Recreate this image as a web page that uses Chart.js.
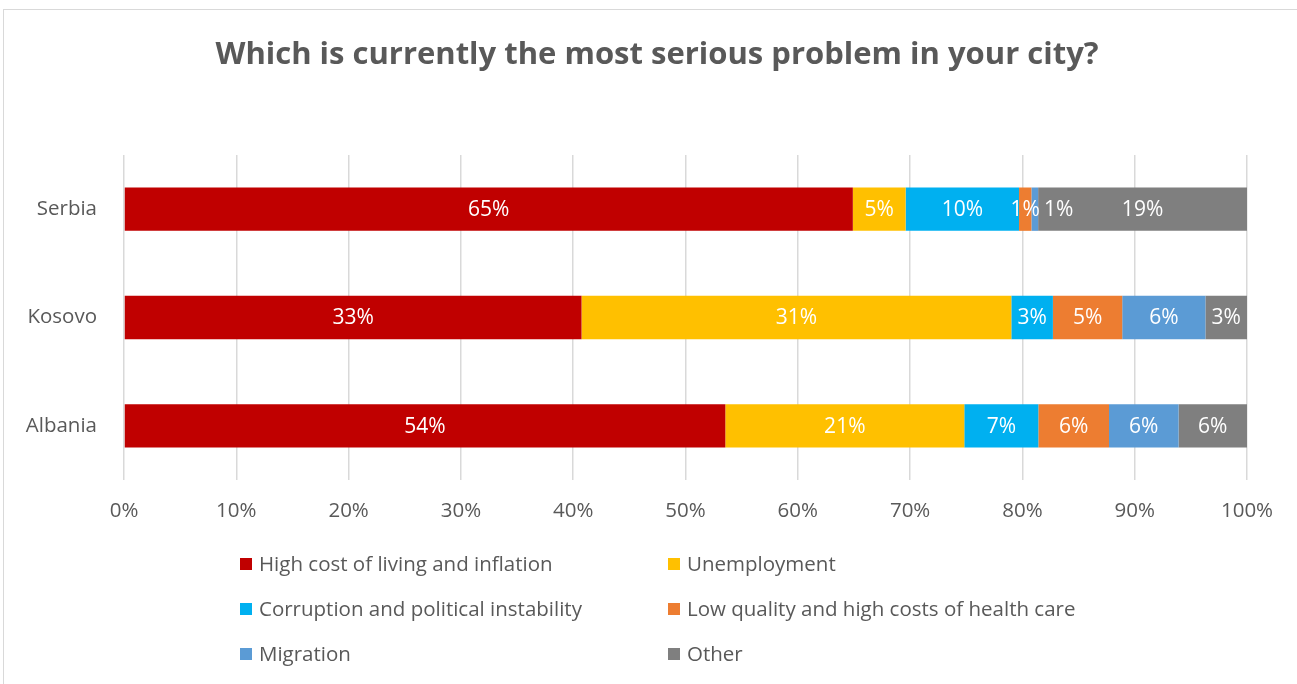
<!DOCTYPE html>
<html>
<head>
<meta charset="utf-8">
<script src="https://cdn.jsdelivr.net/npm/chart.js@4"></script>
<style>
  html, body { margin: 0; padding: 0; background: #fff; }
  #wrap { width: 1297px; height: 684px; position: relative; }
</style>
</head>
<body>
<div id="wrap"><canvas id="chart1"></canvas></div>
<script>
const countries = ['Serbia', 'Kosovo', 'Albania'];
const problems = [
  'High cost of living and inflation',
  'Unemployment',
  'Corruption and political instability',
  'Low quality and high costs of health care',
  'Migration',
  'Other',
];
// raw shares per problem, same order as countries
const costOfLiving = [64.9, 33, 53.6];
const unemployment = [4.7, 31, 21.3];
const corruption = [10.1, 3, 6.6];
const healthCare = [1.1, 5, 6.3];
const migration = [0.6, 6, 6.2];
const other = [18.6, 3, 6.1];
const colors = ['#C00000', '#FFC000', '#00B0F0', '#ED7D31', '#5B9BD5', '#7F7F7F'];
const xTicks = [0, 10, 20, 30, 40, 50, 60, 70, 80, 90, 100];
const title = 'Which is currently the most serious problem in your city?';

const rawSeries = [costOfLiving, unemployment, corruption, healthCare, migration, other];
const FONT = '"Open Sans", sans-serif';
const GREY = '#595959';

// 100% stacked: every row is scaled to its own total
const rowTotals = countries.map((c, i) => rawSeries.reduce((s, arr) => s + arr[i], 0));

const datasets = rawSeries.map((arr, k) => ({
  label: problems[k],
  data: arr.map((v, i) => (v / rowTotals[i]) * 100),
  raw: arr,
  backgroundColor: colors[k],
  borderWidth: 0,
  barPercentage: 0.4,
  categoryPercentage: 1,
}));

// white labels in the middle of each segment, nudged right when they would collide
const segmentLabels = {
  id: 'segmentLabels',
  afterDatasetsDraw(chart) {
    const ctx = chart.ctx;
    ctx.save();
    ctx.font = '21px ' + FONT;
    ctx.fillStyle = '#fff';
    ctx.textAlign = 'center';
    ctx.textBaseline = 'middle';
    countries.forEach((c, i) => {
      let lastRight = -Infinity;
      chart.data.datasets.forEach((ds, k) => {
        const bar = chart.getDatasetMeta(k).data[i];
        const text = Math.round(ds.raw[i]) + '%';
        const w = ctx.measureText(text).width;
        let cx = (bar.x + bar.base) / 2;
        if (cx - w / 2 < lastRight + 4) cx = lastRight + 4 + w / 2;
        ctx.fillText(text, cx, bar.y + 1);
        lastRight = cx + w / 2;
      });
    });
    ctx.restore();
  },
};

// frame + title on top, two-column legend under the axis
const frameAndLegend = {
  id: 'frameAndLegend',
  beforeDraw(chart) {
    const ctx = chart.ctx;
    ctx.save();
    ctx.strokeStyle = '#d9d9d9';
    ctx.lineWidth = 1;
    ctx.strokeRect(3.5, 9.5, 1320, 700);
    ctx.font = 'bold 31px ' + FONT;
    ctx.fillStyle = GREY;
    ctx.textAlign = 'center';
    ctx.textBaseline = 'middle';
    ctx.fillText(title, 657, 55);
    ctx.restore();
  },
  afterDraw(chart) {
    const ctx = chart.ctx;
    const colX = [240, 668];
    const rowY = [564, 609, 654];
    ctx.save();
    ctx.font = '20.5px ' + FONT;
    ctx.textBaseline = 'middle';
    chart.data.datasets.forEach((ds, k) => {
      const x = colX[k % 2];
      const y = rowY[Math.floor(k / 2)];
      ctx.fillStyle = ds.backgroundColor;
      ctx.fillRect(x, y - 6, 12, 12);
      ctx.fillStyle = GREY;
      ctx.fillText(ds.label, x + 19, y + 1);
    });
    ctx.restore();
  },
};

const ctx = document.getElementById('chart1').getContext('2d');
const chart1 = new Chart(ctx, {
  type: 'bar',
  data: { labels: countries, datasets: datasets },
  plugins: [segmentLabels, frameAndLegend],
  options: {
    indexAxis: 'y',
    responsive: true,
    maintainAspectRatio: false,
    animation: false,
    layout: { padding: { left: 0, right: 50, top: 155, bottom: 0 } },
    plugins: {
      legend: { display: false },
      tooltip: { enabled: false },
      title: { display: false },
    },
    scales: {
      x: {
        stacked: true,
        min: 0,
        max: 100,
        afterBuildTicks: (s) => { s.ticks = xTicks.map((v) => ({ value: v })); },
        afterFit: (s) => { s.height = 204; },
        grid: { color: '#d9d9d9', lineWidth: 1.5, drawTicks: false },
        border: { display: false },
        ticks: {
          padding: 19,
          color: GREY,
          font: { family: FONT, size: 20.5 },
          callback: (v) => v + '%',
        },
      },
      y: {
        stacked: true,
        afterFit: (s) => { s.width = 124; },
        grid: { display: false, drawTicks: false },
        border: { display: false },
        ticks: {
          padding: 27,
          color: GREY,
          font: { family: FONT, size: 20.5 },
        },
      },
    },
  },
});
</script>
</body>
</html>
